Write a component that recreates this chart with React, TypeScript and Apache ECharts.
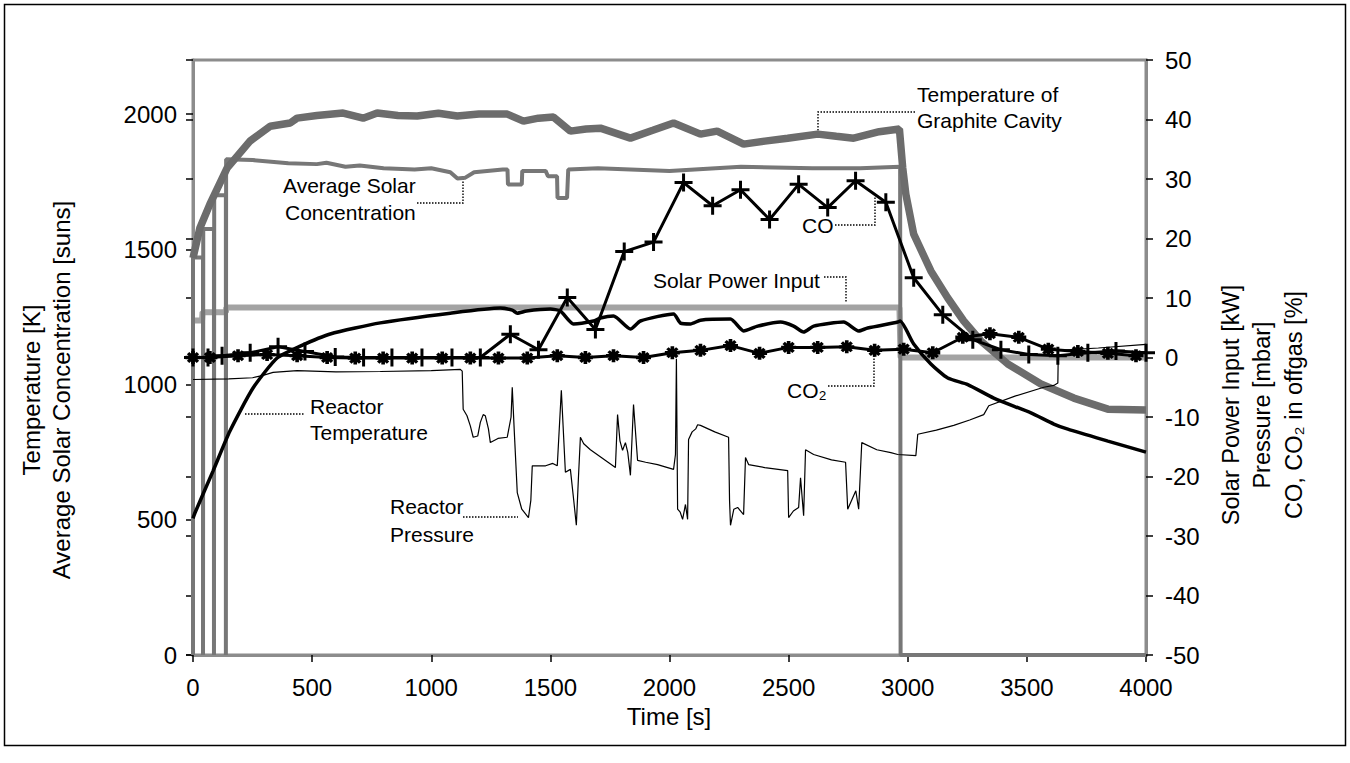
import React, { useEffect, useRef } from "react";
import * as echarts from "echarts";

// ---------- data ----------
const graphiteTime = [0, 29, 71, 143, 239, 324, 408, 437, 520, 630, 714, 773, 860, 941, 1030, 1109, 1200, 1319, 1387, 1450, 1513, 1584, 1650, 1710, 1836, 1930, 2017, 2130, 2200, 2311, 2400, 2496, 2622, 2700, 2773, 2880, 2965, 2979, 2992, 3025, 3097, 3168, 3235, 3307, 3420, 3559, 3697, 3840, 4000];
const graphiteK = [1468, 1579, 1667, 1800, 1900, 1955, 1967, 1985, 1995, 2004, 1985, 2004, 1995, 1993, 2003, 1993, 2000, 2000, 1974, 1985, 1989, 1937, 1945, 1948, 1911, 1940, 1967, 1926, 1937, 1889, 1900, 1911, 1926, 1918, 1911, 1935, 1945, 1800, 1704, 1556, 1420, 1320, 1235, 1161, 1076, 1002, 950, 909, 906];

const avgSolarTime = [0, 0, 42, 42, 43, 88, 88, 89, 138, 138, 139, 250, 400, 520, 560, 640, 700, 800, 930, 1000, 1080, 1110, 1143, 1180, 1300, 1320, 1322, 1380, 1382, 1480, 1490, 1528, 1530, 1570, 1575, 1700, 2000, 2300, 2600, 2800, 2968, 2970, 4000];
const avgSolarSuns = [0, 1470, 1470, 0, 1575, 1575, 0, 1700, 1700, 0, 1833, 1830, 1818, 1815, 1820, 1805, 1810, 1800, 1795, 1800, 1785, 1762, 1765, 1785, 1795, 1795, 1740, 1740, 1790, 1790, 1770, 1770, 1690, 1690, 1795, 1800, 1790, 1805, 1800, 1800, 1805, 0, 0];

const solarTime = [0, 38, 40, 138, 140, 2965, 2970, 4000];
const solarKW = [6.2, 6.2, 7.6, 7.6, 8.4, 8.4, 0, 0];

const reactorTTime = [0, 8, 84, 155, 252, 353, 450, 576, 786, 1080, 1290, 1340, 1361, 1400, 1500, 1542, 1597, 1681, 1710, 1765, 1836, 1878, 2017, 2046, 2088, 2130, 2256, 2311, 2370, 2466, 2521, 2563, 2605, 2731, 2794, 2832, 2958, 2968, 3025, 3097, 3168, 3252, 3361, 3517, 3613, 3672, 3840, 4000];
const reactorTK = [505, 525, 680, 828, 987, 1098, 1142, 1187, 1228, 1264, 1283, 1275, 1264, 1272, 1279, 1272, 1224, 1235, 1246, 1253, 1205, 1235, 1261, 1227, 1224, 1238, 1242, 1198, 1216, 1231, 1216, 1194, 1216, 1231, 1198, 1209, 1231, 1235, 1150, 1076, 1024, 1000, 950, 895, 854, 835, 791, 750];

const pressureTime = [0, 150, 250, 294, 336, 437, 600, 786, 1000, 1122, 1130, 1134, 1150, 1164, 1176, 1195, 1206, 1218, 1227, 1240, 1248, 1280, 1319, 1335, 1340, 1348, 1361, 1380, 1408, 1418, 1424, 1480, 1510, 1529, 1546, 1563, 1584, 1598, 1609, 1618, 1626, 1640, 1668, 1773, 1782, 1792, 1803, 1815, 1825, 1836, 1849, 1866, 1900, 1950, 2017, 2025, 2029, 2034, 2045, 2055, 2067, 2076, 2080, 2095, 2110, 2118, 2130, 2190, 2248, 2252, 2256, 2270, 2286, 2311, 2319, 2332, 2400, 2496, 2500, 2520, 2542, 2550, 2563, 2571, 2605, 2680, 2739, 2748, 2770, 2782, 2794, 2807, 2870, 2929, 2958, 3034, 3042, 3120, 3193, 3260, 3319, 3340, 3450, 3571, 3613, 3630, 3632, 3800, 4000];
const pressureMbar = [-3.7, -3.6, -3.4, -3.0, -2.5, -2.2, -2.4, -2.35, -2.2, -2.0, -2.3, -8.7, -9.8, -11.5, -13.4, -13.2, -10.9, -9.6, -9.8, -12, -14.3, -13.6, -13.4, -10, -5.0, -12, -22.7, -25.5, -26.9, -24, -18.2, -18.2, -17.8, -18.2, -5.5, -19.3, -18.8, -24, -28.2, -20, -13.4, -14.5, -15.5, -18.5, -9.6, -14, -15.6, -14.3, -16, -19.8, -7.9, -17.3, -17.6, -18, -18.8, -16.3, -0.2, -25.5, -26, -27.2, -24.7, -27.2, -13.8, -12.5, -12.0, -11.3, -11.4, -12.5, -13.4, -24, -28.2, -25.5, -25.2, -26.4, -16.8, -18.0, -18.5, -19.0, -26.9, -25.8, -25.2, -20.2, -26.6, -15.5, -16.3, -17.2, -17.6, -25.5, -23.5, -22.4, -25.5, -14.3, -15.5, -16.0, -16.3, -16.5, -12.9, -12.2, -11.4, -10.5, -9.6, -8.1, -6.5, -5.0, -4.7, -4.3, 1.2, 1.6, 2.2];

const coTime = [0, 63, 122, 240, 357, 470, 597, 716, 835, 961, 1087, 1206, 1332, 1450, 1571, 1689, 1810, 1933, 2059, 2181, 2298, 2420, 2542, 2664, 2781, 2908, 3025, 3147, 3273, 3391, 3508, 3630, 3756, 3874, 4000];
const coPct = [0, 0, 0.3, 0.8, 1.8, 1.0, 0.1, 0, 0, 0, 0, 0, 3.9, 1.3, 10.1, 4.7, 17.8, 19.4, 29.4, 25.5, 28.2, 23.2, 29.1, 25.2, 29.7, 26.1, 13.4, 7.2, 3.0, 1.3, 0.5, 0.3, 0.8, 1.1, 0.8];

const co2Time = [0, 71, 189, 311, 437, 563, 681, 798, 920, 1046, 1164, 1282, 1403, 1529, 1647, 1765, 1891, 2012, 2130, 2256, 2378, 2500, 2622, 2744, 2861, 2983, 3105, 3231, 3345, 3466, 3590, 3714, 3840, 3958];
const co2Pct = [0, 0, 0.3, 0.5, 0.3, 0, -0.1, -0.1, -0.1, -0.1, -0.1, -0.1, -0.1, 0.3, 0, 0.3, 0, 0.8, 1.2, 2.0, 0.7, 1.7, 1.7, 1.8, 1.2, 1.4, 0.8, 3.4, 4.0, 3.4, 1.4, 1.0, 0.7, 0.3];

const timeRange = [0, 4000, 500];
const leftRange = [0, 2200, 500];
const rightRange = [-50, 50, 10];

// ---------- styling ----------
const FONT = '"Liberation Sans", Arial, Helvetica, sans-serif';
const FRAME = "#8c8c8c";
const PLUS = "path://M7.5,0H10.5V18H7.5Z M0,7.5H18V10.5H0Z";
const STAR =
  "path://M0,5.3H14V8.7H0Z M5.3,0.3H8.7V13.7H5.3Z M3.53,1.27L12.73,10.47L10.47,12.73L1.27,3.53Z M1.27,10.47L10.47,1.27L12.73,3.53L3.53,12.73Z";

const pairs = (t: number[], v: number[]) => t.map((x, i) => [x, v[i]]);
const plain = (v: number) => String(v);

const txt = (text: string, x: number, y: number, size = 21, align = "left") => ({
  type: "text",
  x,
  y,
  silent: true,
  style: { text, font: `${size}px ${FONT}`, fill: "#000", textAlign: align, textVerticalAlign: "middle" },
});
const leader = (points: number[][]) => ({
  type: "polyline",
  silent: true,
  shape: { points },
  style: { stroke: "#000", lineWidth: 1.4, lineDash: [1.5, 1.5], fill: null },
});

export default function App() {
  const ref = useRef<HTMLDivElement>(null);

  useEffect(() => {
    if (!ref.current) return;
    const chart = echarts.init(ref.current, null, { renderer: "svg" });
    const axisLabel = { color: "#000", fontSize: 24, fontFamily: FONT, formatter: plain };
    const option = {
      animation: false,
      backgroundColor: "#ffffff",
      grid: { left: 193, right: 204, top: 60, bottom: 108, show: true, borderColor: FRAME, borderWidth: 3, backgroundColor: "transparent" },
      xAxis: {
        type: "value",
        min: timeRange[0],
        max: timeRange[1],
        interval: timeRange[2],
        axisLine: { show: true, onZero: false, lineStyle: { color: FRAME, width: 3 } },
        axisTick: { show: true, length: 7, lineStyle: { color: "#000", width: 1.5 } },
        axisLabel: { ...axisLabel, margin: 20 },
        splitLine: { show: false },
      },
      yAxis: [
        {
          type: "value",
          position: "left",
          min: leftRange[0],
          max: leftRange[1],
          interval: leftRange[2],
          axisLine: { show: true, onZero: false, lineStyle: { color: FRAME, width: 3 } },
          axisTick: { show: true, length: 7, lineStyle: { color: "#000", width: 1.5 } },
          axisLabel: { ...axisLabel, margin: 16, showMaxLabel: false },
          splitLine: { show: false },
        },
        {
          type: "value",
          position: "right",
          min: rightRange[0],
          max: rightRange[1],
          interval: rightRange[2],
          axisLine: { show: true, onZero: false, lineStyle: { color: FRAME, width: 3 } },
          axisTick: { show: true, length: 7, lineStyle: { color: "#000", width: 1.5 } },
          axisLabel: { ...axisLabel, margin: 19 },
          splitLine: { show: false },
        },
        {
          type: "value",
          position: "right",
          min: rightRange[0],
          max: rightRange[1],
          interval: rightRange[2],
          axisLine: { show: false },
          axisTick: { show: true, inside: true, length: 7, lineStyle: { color: "#000", width: 1.5 } },
          axisLabel: { show: false },
          splitLine: { show: false },
        },
      ],
      series: [
        {
          name: "Solar Power Input",
          type: "line",
          yAxisIndex: 1,
          data: pairs(solarTime, solarKW),
          showSymbol: false,
          lineStyle: { color: "#a3a3a3", width: 6 },
          z: 2,
        },
        {
          name: "Average Solar Concentration",
          type: "line",
          yAxisIndex: 0,
          data: pairs(avgSolarTime, avgSolarSuns),
          showSymbol: false,
          lineStyle: { color: "#777777", width: 4 },
          z: 3,
        },
        {
          name: "Temperature of Graphite Cavity",
          type: "line",
          yAxisIndex: 0,
          data: pairs(graphiteTime, graphiteK),
          showSymbol: false,
          lineStyle: { color: "#6c6c6c", width: 7.5 },
          z: 3,
        },
        {
          name: "Reactor Pressure",
          type: "line",
          yAxisIndex: 1,
          data: pairs(pressureTime, pressureMbar),
          showSymbol: false,
          lineStyle: { color: "#000", width: 1.2 },
          z: 4,
        },
        {
          name: "Reactor Temperature",
          type: "line",
          yAxisIndex: 0,
          data: pairs(reactorTTime, reactorTK),
          showSymbol: false,
          smooth: 0.2,
          lineStyle: { color: "#000", width: 3.5 },
          z: 5,
        },
        {
          name: "CO2",
          type: "line",
          yAxisIndex: 1,
          data: pairs(co2Time, co2Pct),
          symbol: STAR,
          symbolSize: [15, 13],
          itemStyle: { color: "#000" },
          lineStyle: { color: "#000", width: 3 },
          z: 6,
        },
        {
          name: "CO",
          type: "line",
          yAxisIndex: 1,
          data: pairs(coTime, coPct),
          symbol: PLUS,
          symbolSize: 18,
          itemStyle: { color: "#000" },
          lineStyle: { color: "#000", width: 3 },
          z: 7,
        },
      ],
      graphic: [
        {
          type: "rect",
          silent: true,
          shape: { x: 4.5, y: 4.5, width: 1341, height: 741 },
          style: { fill: null, stroke: "#000", lineWidth: 1.5 },
        },
        // axis titles
        {
          type: "text",
          x: 46,
          y: 390,
          rotation: Math.PI / 2,
          silent: true,
          style: {
            text: "Temperature [K]\nAverage Solar Concentration [suns]",
            font: `24px ${FONT}`,
            lineHeight: 30,
            fill: "#000",
            textAlign: "center",
            textVerticalAlign: "middle",
          },
        },
        {
          type: "text",
          x: 1262,
          y: 405,
          rotation: Math.PI / 2,
          silent: true,
          style: {
            text: "Solar Power Input [kW]\nPressure [mbar]\nCO, CO\u2082 in offgas [%]",
            font: `23.5px ${FONT}`,
            lineHeight: 31.5,
            fill: "#000",
            textAlign: "center",
            textVerticalAlign: "middle",
          },
        },
        txt("Time [s]", 669, 716, 24, "center"),
        // annotations
        txt("Temperature of", 917, 94.5),
        txt("Graphite Cavity", 917, 120.5),
        leader([[915, 112], [818, 112], [818, 132]]),
        txt("Average Solar", 283, 185.5),
        txt("Concentration", 285, 212.5),
        leader([[417, 203], [463, 203], [463, 178]]),
        txt("CO", 802, 225.5),
        leader([[835, 225], [875, 225], [875, 197]]),
        txt("Solar Power Input", 653, 280),
        leader([[824, 277], [846, 277], [846, 303]]),
        txt("CO\u2082", 787, 390),
        leader([[828, 386], [874, 386], [874, 349]]),
        txt("Reactor", 310, 406),
        txt("Temperature", 310, 432.5),
        leader([[245, 414], [305, 414]]),
        txt("Reactor", 390, 506.5),
        txt("Pressure", 390, 534.5),
        leader([[463, 517], [518, 517]]),
      ],
    };
    chart.setOption(option as any);
    return () => chart.dispose();
  }, []);

  return (
    <div
      ref={ref}
      style={{ position: "absolute", left: 0, top: 0, width: 1350, height: 763, background: "#fff" }}
    />
  );
}
